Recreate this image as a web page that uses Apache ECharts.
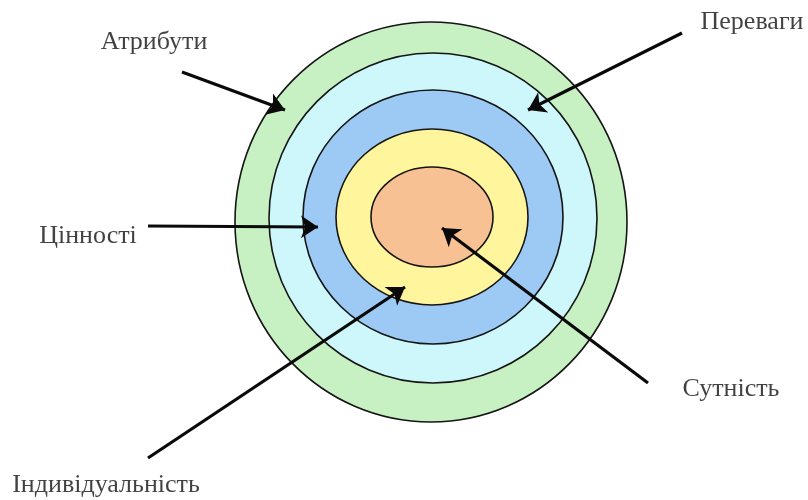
<!DOCTYPE html>
<html>
<head>
<meta charset="utf-8">
<script src="https://cdn.jsdelivr.net/npm/echarts@6/dist/echarts.min.js"></script>
<style>html,body{margin:0;padding:0;background:#fff}#c{width:808px;height:500px}</style>
</head>
<body>
<div id="c"></div>
<script>
// Concentric layers (outer → inner), in diagram units
var layerNames = ['Атрибути', 'Переваги', 'Цінності', 'Індивідуальність', 'Сутність'];
var layerCx = [431, 433, 433, 432, 432];
var layerCy = [222, 218, 217, 217, 217];
var layerRx = [196, 164, 130, 96, 61];
var layerRy = [200, 165, 127, 88, 50];
var layerColors = ['#c8f1c3', '#cdf7fb', '#9dcaf4', '#fff59d', '#f8c194'];

// Arrows: label point → target point
var arrowFrom = [[182, 72], [682, 33], [148, 226], [148, 458], [648, 383]];
var arrowTo = [[285, 110], [528, 110], [318, 227], [405, 287], [442, 228]];

// Label anchor points (text centre)
var labelX = [154, 752, 88, 106, 731];
var labelY = [42, 22, 236, 485, 389];

var chart = echarts.init(document.getElementById('c'));

var ellipseData = layerNames.map(function (n, i) {
  return { name: n, value: [layerCx[i], layerCy[i], layerRx[i], layerRy[i]], itemStyle: { color: layerColors[i] } };
});
var lineData = layerNames.map(function (n, i) {
  return { name: n, coords: [arrowFrom[i], arrowTo[i]] };
});
var labelData = layerNames.map(function (n, i) {
  return { name: n, value: [labelX[i], labelY[i]] };
});

chart.setOption({
  animation: false,
  backgroundColor: '#ffffff',
  grid: { left: 0, right: 0, top: 0, bottom: 0 },
  xAxis: { type: 'value', min: 0, max: 808, show: false },
  yAxis: { type: 'value', min: 0, max: 500, inverse: true, show: false },
  series: [
    {
      type: 'custom',
      coordinateSystem: 'cartesian2d',
      data: ellipseData,
      z: 1,
      renderItem: function (params, api) {
        var c = api.coord([api.value(0), api.value(1)]);
        var s = api.size([api.value(2), api.value(3)]);
        return {
          type: 'ellipse',
          shape: { cx: c[0], cy: c[1], rx: s[0], ry: s[1] },
          style: { fill: api.visual('color'), stroke: '#151515', lineWidth: 1.6 }
        };
      }
    },
    {
      type: 'lines',
      coordinateSystem: 'cartesian2d',
      z: 5,
      symbol: ['none', 'arrow'],
      symbolSize: [14, 17],
      lineStyle: { color: '#0a0a0a', width: 3.2, opacity: 1, curveness: 0 },
      data: lineData
    },
    {
      type: 'scatter',
      z: 6,
      symbolSize: 0,
      data: labelData,
      label: {
        show: true,
        position: 'inside',
        formatter: '{b}',
        color: '#111',
        fontFamily: 'Liberation Serif',
        fontSize: 26
      }
    }
  ]
});
</script>
</body>
</html>
